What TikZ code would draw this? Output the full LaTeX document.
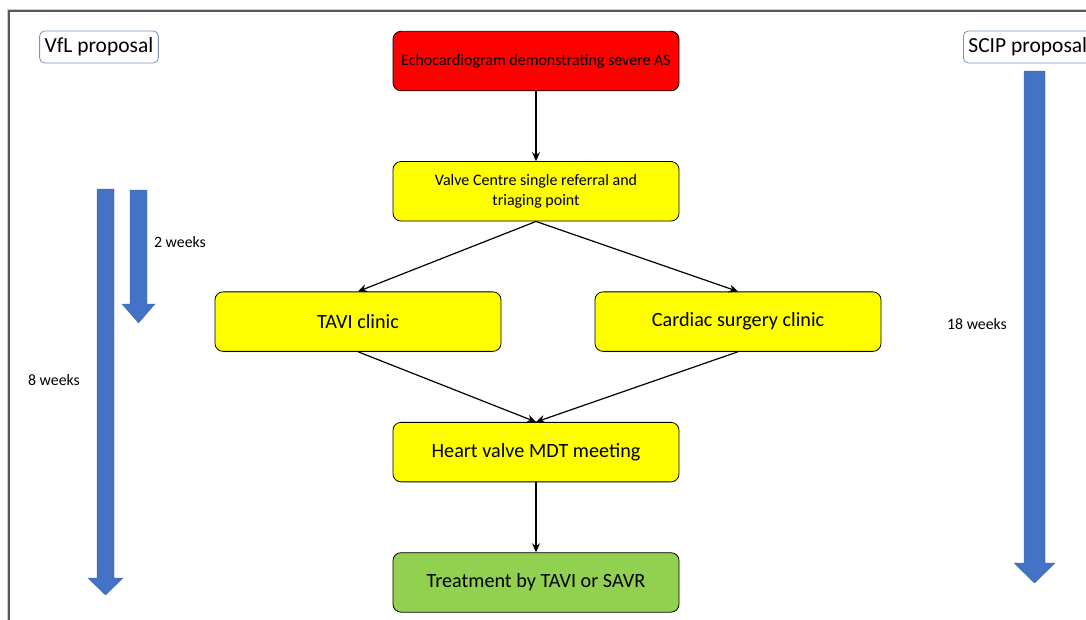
\documentclass[tikz,border=0pt]{standalone}
\usepackage{fontspec}
\setmainfont{Carlito}
\usetikzlibrary{positioning, arrows.meta}
\definecolor{echored}{RGB}{255,0,0}
\definecolor{stepyel}{RGB}{255,255,0}
\definecolor{treatgrn}{RGB}{146,208,80}
\definecolor{barblue}{RGB}{68,114,196}
\definecolor{tagline}{RGB}{120,145,190}
\tikzset{
  blk/.style={draw, rounded corners=8pt, align=center, line width=0.8pt,
              minimum width=286pt, minimum height=59.5pt, inner sep=2pt},
  sblk/.style={blk, font=\fontsize{16}{19.5}\selectfont},
  bblk/.style={blk, font=\fontsize{20.2}{24}\selectfont},
  tag/.style={draw=tagline, rounded corners=5pt, line width=0.8pt,
              font=\fontsize{21.5}{25}\selectfont, minimum height=32pt, inner xsep=5pt, inner ysep=2pt},
  wk/.style={font=\fontsize{15.8}{19}\selectfont},
  tbar/.style={fill=barblue, draw=barblue!85!black, line width=0.3pt},
  con/.style={-{Stealth[length=9pt, width=8pt]}, line width=1.2pt},
}

\begin{document}
\begin{tikzpicture}[x=1pt, y=-1pt, node distance=70pt]
  \useasboundingbox (0,0) rectangle (1086,619);
  % frame
  \draw[black!20, line width=2.5pt] (8,630) -- (8,10) -- (1095,10);
  \draw[black!65, line width=1.2pt] (9,630) -- (9,11) -- (1095,11);

  % flow
  \node[sblk, fill=echored](echo) at (536,61) {Echocardiogram demonstrating severe AS};
  \node[sblk, fill=stepyel, below=of echo](vc) {Valve Centre single referral and\\triaging point};
  \node[bblk, fill=stepyel, below=of vc, xshift=-178pt](tavi) {TAVI clinic};
  \node[bblk, fill=stepyel, below=of vc, xshift=202pt](surg) {Cardiac surgery clinic};
  \node[bblk, fill=stepyel, below=of vc, yshift=-130.5pt](mdt) {Heart valve MDT meeting};
  \node[bblk, fill=treatgrn, below=of mdt](treat) {Treatment by TAVI or SAVR};

  \draw[con](echo)--(vc);
  \draw[con](vc.south)--(tavi.north); \draw[con](vc.south)--(surg.north);
  \draw[con](tavi.south)--(mdt.north); \draw[con](surg.south)--(mdt.north);
  \draw[con](mdt)--(treat);

  % proposals
  \node[tag](vfl) at (99,47) {VfL proposal};
  \node[tag, anchor=west](scip) at (963,47) {SCIP proposal};

  % time bars
  \filldraw[tbar] (97,189) -- (114,189) -- (114,578) -- (123,578) -- (105.5,595) -- (88,578) -- (97,578) -- cycle;
  \filldraw[tbar] (130,190) -- (147,190) -- (147,304) -- (155,304) -- (138.5,323) -- (122,304) -- (130,304) -- cycle;
  \filldraw[tbar] (1024,71) -- (1045,71) -- (1045,563) -- (1055,563) -- (1034.5,583) -- (1014,563) -- (1024,563) -- cycle;

  \node[wk](w2) at (180,242) {2 weeks};
  \node[wk](w8) at (54,380) {8 weeks};
  \node[wk](w18) at (977,324) {18 weeks};
\end{tikzpicture}
\end{document}
